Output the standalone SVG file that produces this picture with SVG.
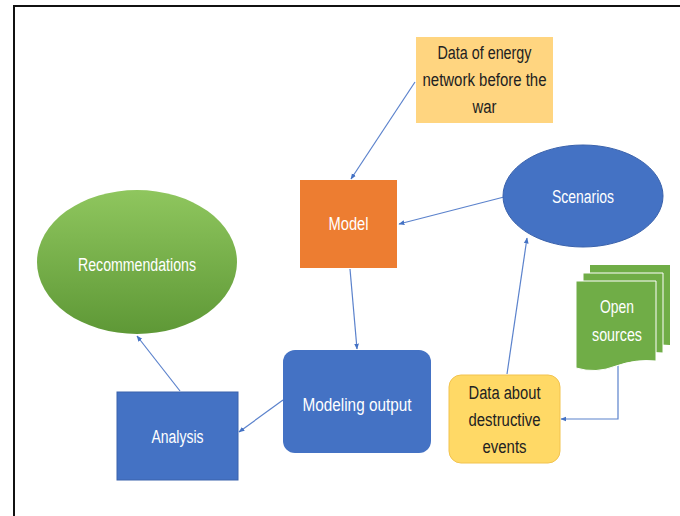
<svg xmlns="http://www.w3.org/2000/svg" width="680" height="516" viewBox="0 0 680 516">
  <defs>
    <linearGradient id="greenGrad" x1="0" y1="0" x2="0" y2="1">
      <stop offset="0" stop-color="#8FC65E"/>
      <stop offset="1" stop-color="#5E9836"/>
    </linearGradient>
    <marker id="arrow" viewBox="0 0 10 10" refX="9" refY="5" markerWidth="6" markerHeight="6" orient="auto-start-reverse" markerUnits="userSpaceOnUse">
      <path d="M0,1 L10,5 L0,9 z" fill="#4472C4"/>
    </marker>
    <style>
      .lbl { font-family: "Liberation Sans Narrow", "Liberation Sans", Arial, sans-serif; font-size: 18px; text-anchor: middle; dominant-baseline: central; }
      .light { fill: #FFFFFF; }
      .dark { fill: #222222; }
      .edge { fill: none; stroke: #5B82CC; stroke-width: 1.2; marker-end: url(#arrow); }
    </style>
  </defs>

  <rect x="0" y="0" width="680" height="516" fill="#FFFFFF"/>
  <!-- frame -->
  <path d="M14,516 V6 H680" fill="none" stroke="#111111" stroke-width="2"/>

  <g id="connectors">
    <line class="edge" x1="415" y1="82" x2="351" y2="179"/>
    <line class="edge" x1="504" y1="197" x2="399" y2="224"/>
    <line class="edge" x1="350" y1="269" x2="357" y2="349"/>
    <line class="edge" x1="507" y1="374" x2="527" y2="238"/>
    <polyline class="edge" points="618,360 618,419 561,419"/>
    <line class="edge" x1="283" y1="400" x2="239" y2="432"/>
    <line class="edge" x1="180" y1="391" x2="137" y2="336"/>
  </g>

  <g id="energy-data">
    <rect x="416" y="37" width="137" height="86" fill="#FFD580"/>
    <text class="lbl dark" x="484.5" y="53" textLength="94" lengthAdjust="spacingAndGlyphs">Data of energy</text>
    <text class="lbl dark" x="484.5" y="80" textLength="124" lengthAdjust="spacingAndGlyphs">network before the</text>
    <text class="lbl dark" x="484.5" y="107" textLength="24" lengthAdjust="spacingAndGlyphs">war</text>
  </g>

  <g id="model">
    <rect x="300" y="180" width="97" height="88" fill="#ED7D31"/>
    <text class="lbl light" x="348.5" y="224" textLength="40" lengthAdjust="spacingAndGlyphs">Model</text>
  </g>

  <g id="scenarios">
    <ellipse cx="583" cy="196" rx="80" ry="51" fill="#4472C4" stroke="#3A62AC" stroke-width="1"/>
    <text class="lbl light" x="583" y="197" textLength="62" lengthAdjust="spacingAndGlyphs">Scenarios</text>
  </g>

  <g id="open-sources">
    <path d="M590,265 H670 V345 Q650,343 630,350 Q610,358 590,352 Z" fill="#70AD47"/>
    <path d="M583,273 H663 V353 Q643,351 623,358 Q603,366 583,360 Z" fill="#70AD47" stroke="#FFFFFF" stroke-width="1"/>
    <path d="M576,281 H656 V361 Q636,359 616,366 Q596,374 576,368 Z" fill="#70AD47" stroke="#FFFFFF" stroke-width="1"/>
    <text class="lbl light" x="617" y="307" textLength="34" lengthAdjust="spacingAndGlyphs">Open</text>
    <text class="lbl light" x="617" y="335" textLength="50" lengthAdjust="spacingAndGlyphs">sources</text>
  </g>

  <g id="destructive-events">
    <rect x="449" y="375" width="111" height="88" rx="12" fill="#FFD966" stroke="#F2C34F" stroke-width="1"/>
    <text class="lbl dark" x="504.5" y="393" textLength="72" lengthAdjust="spacingAndGlyphs">Data about</text>
    <text class="lbl dark" x="504.5" y="420" textLength="72" lengthAdjust="spacingAndGlyphs">destructive</text>
    <text class="lbl dark" x="504.5" y="447" textLength="44" lengthAdjust="spacingAndGlyphs">events</text>
  </g>

  <g id="modeling-output">
    <rect x="283" y="350" width="148" height="103" rx="12" fill="#4472C4"/>
    <text class="lbl light" x="357" y="405" textLength="109" lengthAdjust="spacingAndGlyphs">Modeling output</text>
  </g>

  <g id="analysis">
    <rect x="117" y="392" width="121" height="88" fill="#4472C4" stroke="#3A62AC" stroke-width="1"/>
    <text class="lbl light" x="177.5" y="437" textLength="52" lengthAdjust="spacingAndGlyphs">Analysis</text>
  </g>

  <g id="recommendations">
    <ellipse cx="137" cy="262" rx="100" ry="72" fill="url(#greenGrad)"/>
    <text class="lbl light" x="137" y="265" textLength="118" lengthAdjust="spacingAndGlyphs">Recommendations</text>
  </g>
</svg>
